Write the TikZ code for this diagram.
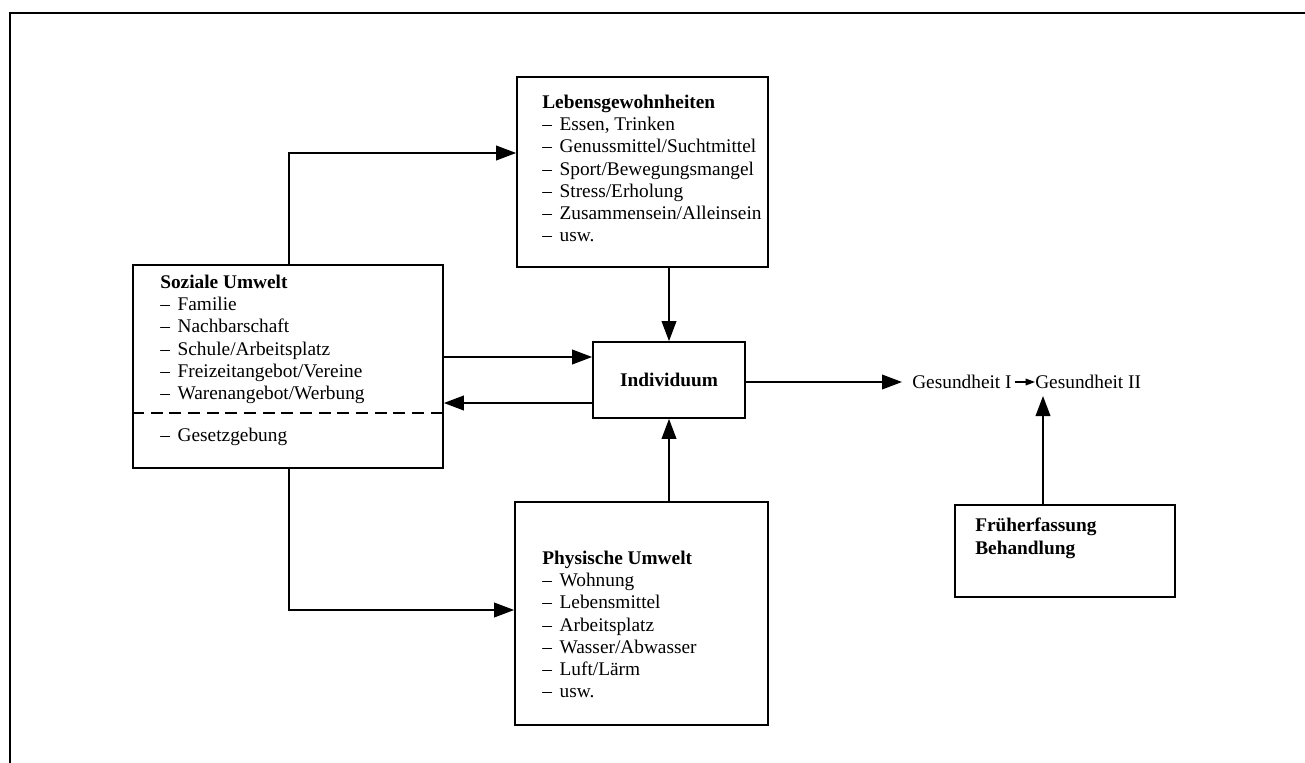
\documentclass[tikz,border=0pt]{standalone}
\usepackage{fontspec}
\setmainfont{Liberation Serif}
\usetikzlibrary{arrows.meta,fit,calc}
\newcommand{\dsh}{–\hspace{0.4em}}
\tikzset{
  boxed/.style={draw, line width=1.3pt, inner sep=0pt},
  txt/.style={anchor=north west, align=left, inner sep=0pt, font=\fontsize{14.5}{16.6}\selectfont},
  arr/.style={line width=1.2pt, -{Triangle[length=15pt,width=11pt]}},
  small/.style={line width=0.9pt, -{Triangle[length=7pt,width=5pt]}}
}
\begin{document}
\begin{tikzpicture}[x=0.75pt,y=-0.75pt]
\useasboundingbox (0,0) rectangle (1305,763);
% frame
\draw[line width=1.6pt] (10,763) -- (10,13) -- (1305,13);
% boxes
\node[boxed, fit={(517,77)(768,267)}] (leb) {};
\node[boxed, fit={(133,265)(443,468)}] (soz) {};
\node[boxed, fit={(593,342)(745,418)}] (ind) {};
\node[boxed, fit={(515,502)(768,725)}] (phy) {};
\node[boxed, fit={(955,505)(1175,597)}] (fru) {};
% texts
\node[txt] (lebT) at (542,95) {\textbf{Lebensgewohnheiten}\\\dsh Essen, Trinken\\\dsh Genussmittel/Suchtmittel\\\dsh Sport/Bewegungsmangel\\\dsh Stress/Erholung\\\dsh Zusammensein/Alleinsein\\\dsh usw.};
\node[txt] (sozT) at (160,275) {\textbf{Soziale Umwelt}\\\dsh Familie\\\dsh Nachbarschaft\\\dsh Schule/Arbeitsplatz\\\dsh Freizeitangebot/Vereine\\\dsh Warenangebot/Werbung};
\draw[line width=1.2pt, dash pattern=on 9pt off 5pt] (soz.west |- 0,413) -- (soz.east |- 0,413);
\node[txt] (sozG) at (160,428) {\dsh Gesetzgebung};
\node[txt] (phyT) at (542,551) {\textbf{Physische Umwelt}\\\dsh Wohnung\\\dsh Lebensmittel\\\dsh Arbeitsplatz\\\dsh Wasser/Abwasser\\\dsh Luft/Lärm\\\dsh usw.};
\node[txt] (fruT) at (975,518) {\textbf{Früherfassung}\\\textbf{Behandlung}};
\node[font=\fontsize{14.5}{16.6}\selectfont\bfseries] (indT) at (ind.center) {Individuum};
\node[anchor=west, inner sep=0pt, font=\fontsize{14.5}{16.6}\selectfont] (g1) at (912,382) {Gesundheit I};
\node[anchor=west, inner sep=0pt, font=\fontsize{14.5}{16.6}\selectfont] (g2) at (1035,382) {Gesundheit II};
\coordinate (gm) at (1043,396);
% connectors
\draw[arr] ($(soz.north west)+(157,0)$) |- (leb.west |- 0,153);
\draw[arr] (ind.north |- leb.south) -- (ind.north);
\draw[arr] (soz.east |- 0,357) -- (ind.west |- 0,357);
\draw[arr] (ind.west |- 0,403) -- (soz.east |- 0,403);
\draw[arr] (ind.east |- g1.west) -- ($(g1.west)+(-10,0)$);
\draw[arr] (ind.south |- phy.north) -- (ind.south);
\draw[arr] ($(soz.south west)+(157,0)$) |- (phy.west |- 0,610);
\draw[arr] (fru.north -| gm) -- (gm);
\draw[small] ($(g1.east)+(3,0)$) -- (g2.west);
\end{tikzpicture}
\end{document}
